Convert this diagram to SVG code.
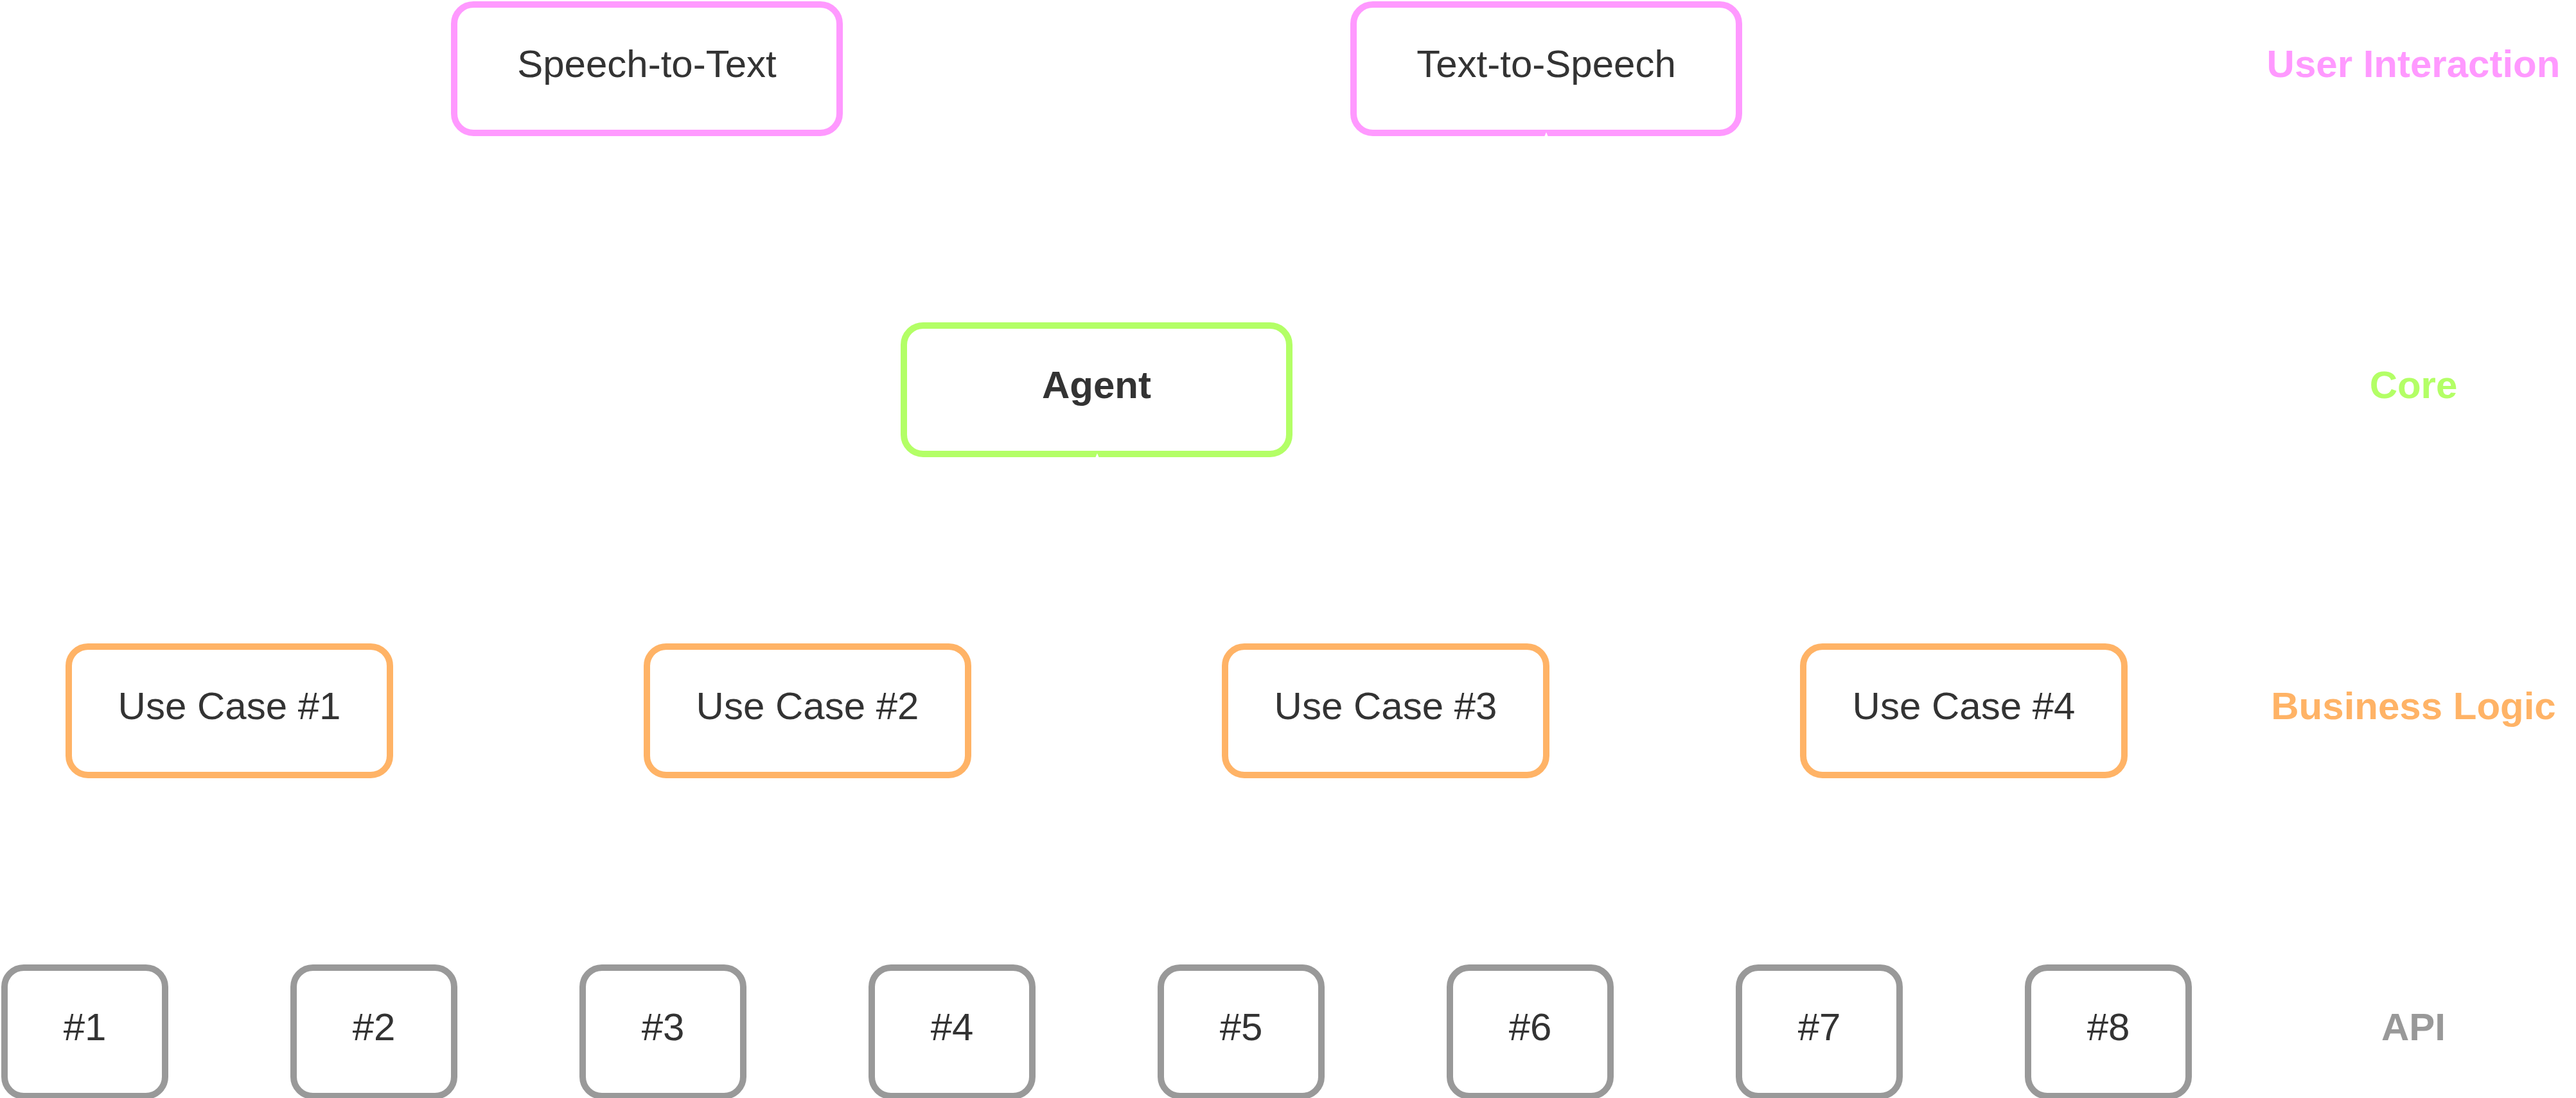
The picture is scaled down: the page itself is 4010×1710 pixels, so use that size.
<svg xmlns="http://www.w3.org/2000/svg" width="4010" height="1710" viewBox="0 0 4010 1710">
<style>
.box{fill:#ffffff;stroke-width:10}
.ui{stroke:#FF99FF}
.core{stroke:#B3FF66}
.bl{stroke:#FFB366}
.api{stroke:#999999}
.t{font-family:"Liberation Sans",Arial,Helvetica,sans-serif;font-size:60px;fill:#333333;text-anchor:middle}
.b{font-weight:bold}
.lab{font-family:"Liberation Sans",Arial,Helvetica,sans-serif;font-size:60px;font-weight:bold;text-anchor:middle}
</style>
<rect x="0" y="0" width="4010" height="1710" fill="#ffffff"/>
<g id="n-stt"><rect class="box ui" x="707" y="7" width="600" height="200" rx="30"/><text class="t" x="1007" y="120">Speech-to-Text</text></g>
<g id="n-tts"><rect class="box ui" x="2107" y="7" width="600" height="200" rx="30"/><text class="t" x="2407" y="120">Text-to-Speech</text></g>
<g id="n-agent"><rect class="box core" x="1407" y="507" width="600" height="200" rx="30"/><text class="t b" x="1707" y="620">Agent</text></g>
<g id="n-uc1"><rect class="box bl" x="107" y="1007" width="500" height="200" rx="30"/><text class="t" x="357" y="1120">Use Case #1</text></g>
<g id="n-uc2"><rect class="box bl" x="1007" y="1007" width="500" height="200" rx="30"/><text class="t" x="1257" y="1120">Use Case #2</text></g>
<g id="n-uc3"><rect class="box bl" x="1907" y="1007" width="500" height="200" rx="30"/><text class="t" x="2157" y="1120">Use Case #3</text></g>
<g id="n-uc4"><rect class="box bl" x="2807" y="1007" width="500" height="200" rx="30"/><text class="t" x="3057" y="1120">Use Case #4</text></g>
<g id="n-api1"><rect class="box api" x="7" y="1507" width="250" height="200" rx="30"/><text class="t" x="132" y="1620">#1</text></g>
<g id="n-api2"><rect class="box api" x="457" y="1507" width="250" height="200" rx="30"/><text class="t" x="582" y="1620">#2</text></g>
<g id="n-api3"><rect class="box api" x="907" y="1507" width="250" height="200" rx="30"/><text class="t" x="1032" y="1620">#3</text></g>
<g id="n-api4"><rect class="box api" x="1357" y="1507" width="250" height="200" rx="30"/><text class="t" x="1482" y="1620">#4</text></g>
<g id="n-api5"><rect class="box api" x="1807" y="1507" width="250" height="200" rx="30"/><text class="t" x="1932" y="1620">#5</text></g>
<g id="n-api6"><rect class="box api" x="2257" y="1507" width="250" height="200" rx="30"/><text class="t" x="2382" y="1620">#6</text></g>
<g id="n-api7"><rect class="box api" x="2707" y="1507" width="250" height="200" rx="30"/><text class="t" x="2832" y="1620">#7</text></g>
<g id="n-api8"><rect class="box api" x="3157" y="1507" width="250" height="200" rx="30"/><text class="t" x="3282" y="1620">#8</text></g>
<g id="labels">
<text class="lab" x="3757" y="120" fill="#FF99FF">User Interaction</text>
<text class="lab" x="3757" y="620" fill="#B3FF66">Core</text>
<text class="lab" x="3757" y="1120" fill="#FFB366">Business Logic</text>
<text class="lab" x="3757" y="1620" fill="#999999">API</text>
</g>
<g id="connectors" fill="#ffffff" stroke="none">
<polygon points="1708,706 1705,713 1711,713"/>
<polygon points="2407,206 2404,213 2410,213"/>
</g>
</svg>
